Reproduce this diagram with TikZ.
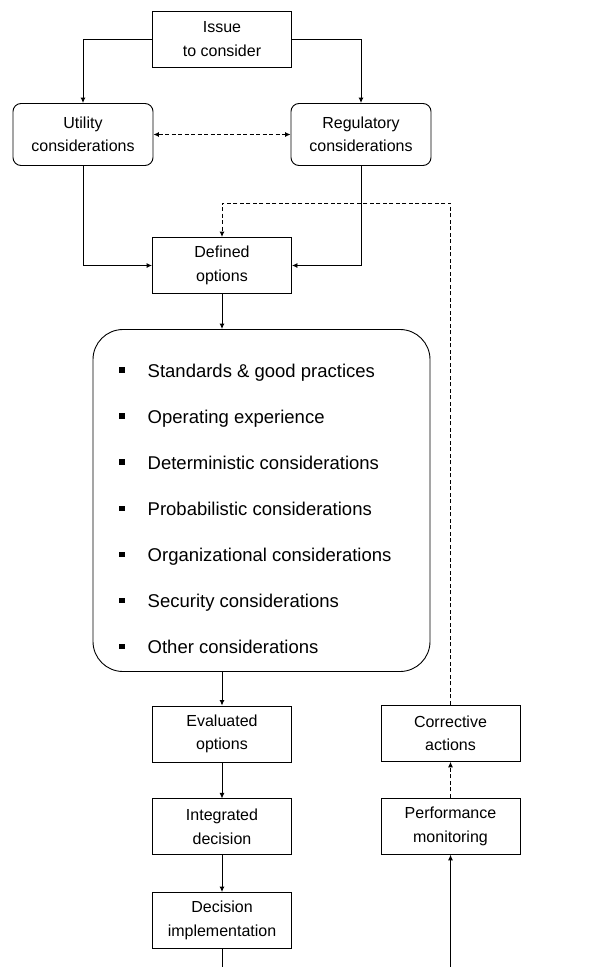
\documentclass[tikz,border=0pt]{standalone}
\usepackage{fontspec}
\setmainfont{Liberation Sans}
\usepackage{tikz}
\usetikzlibrary{positioning,arrows.meta,calc}
\tikzset{txt/.style={font=\fontsize{16}{23.5}\selectfont}}
\tikzset{box/.style={txt, draw, line width=0.9pt, minimum width=139pt, minimum height=56pt, inner sep=0pt, align=center}}
\tikzset{rbox/.style={box, rounded corners=8pt, minimum width=140pt, minimum height=62pt}}
\tikzset{bigbox/.style={draw, line width=0.9pt, rounded corners=30pt, minimum width=337pt, minimum height=342pt, inner sep=0pt}}
\tikzset{itemtxt/.style={font=\fontsize{18.5}{22}\selectfont, anchor=base west, inner sep=0pt}}
\tikzset{arr/.style={draw, line width=0.9pt, -{Latex[length=5.5pt,width=5pt]}}}
\tikzset{dash2/.style={dash pattern=on 4pt off 2.5pt}}
\tikzset{bullet/.style={fill, inner sep=0pt, minimum size=5.5pt}}

\begin{document}
\begin{tikzpicture}[x=1pt,y=-1pt]
	\useasboundingbox (0,0) rectangle (614,967);
	% top of the chart
	\node[box] (issue) at (222,39) {Issue\\to consider};
	\node[rbox] (util) at (83,134.5) {Utility\\considerations};
	\node[rbox] (reg) at (361,134.5) {Regulatory\\considerations};
	\node[box] (defined) at (222,265.5) {Defined\\options};
	\draw[arr] (issue.west) -| (util.north);
	\draw[arr] (issue.east) -| (reg.north);
	\draw[arr, {Latex[length=5.5pt,width=5pt]}-{Latex[length=5.5pt,width=5pt]}, dash2] (util) -- (reg);
	\draw[arr] (util.south) |- (defined.west);
	\draw[arr] (reg.south) |- (defined.east);
	% list of inputs
	\node[bigbox] (inputs) at (261.5,500.5) {};
	\draw[arr] (defined.south) -- (defined.south |- inputs.north);
	\foreach \item [count=\i] in {Standards \& good practices, Operating experience,
		Deterministic considerations, Probabilistic considerations,
		Organizational considerations, Security considerations, Other considerations}
	{
		\node[bullet] (b\i) at (122,{323.9+46.1*\i}) {};
		\node[itemtxt] (t\i) at (147.5,{323.9+46.1*\i+7}) {\item};
	}
	% decision column
	\node[box] (eval) at (222,734) {Evaluated\\options};
	\node[box, below=36pt of eval] (integ) {Integrated\\decision};
	\node[box, below=36.7pt of integ] (impl) {Decision\\implementation};
	\draw[arr] (defined.south |- inputs.south) -- (eval.north);
	\draw[arr] (eval) -- (integ);
	\draw[arr] (integ) -- (impl);
	\coordinate (out) at (222,967);
	\draw[line width=0.9pt] (impl.south) -- (out);
	% feedback loop
	\node[box] (perf) at (450.5,826.3) {Performance\\monitoring};
	\node[box, above=36pt of perf] (corr) {Corrective\\actions};
	\coordinate (back) at (450.5,967);
	\coordinate (fb) at (450.5,203);
	\draw[arr] (back) -- (perf.south);
	\draw[arr, dash2] (perf) -- (corr);
	\draw[arr, dash2] (corr.north) -- (fb) -| (defined.north);
\end{tikzpicture}
\end{document}
